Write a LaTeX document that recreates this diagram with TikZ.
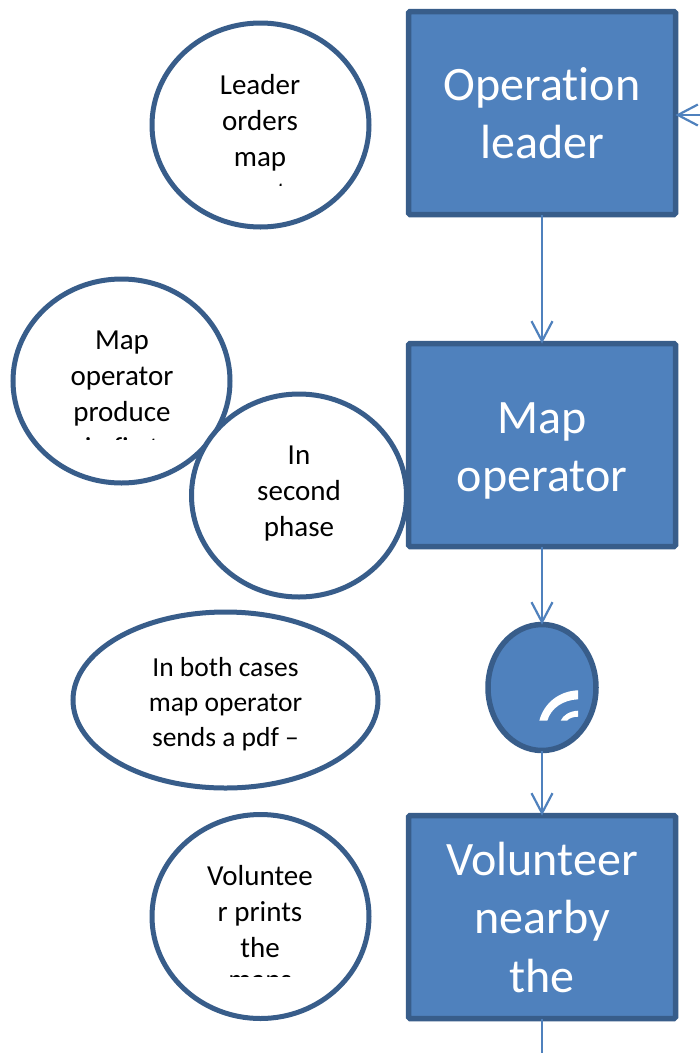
\documentclass[tikz,border=0pt]{standalone}
\usepackage{fontspec}
\setmainfont[Ligatures=NoCommon]{Carlito}
\usetikzlibrary{shapes.geometric,arrows.meta}
\definecolor{fillblue}{HTML}{4F81BD}
\definecolor{edgeblue}{HTML}{385D8A}
\tikzset{
  boxnode/.style={draw=edgeblue,fill=fillblue,line width=5.5pt,rounded corners=1.5pt,minimum width=267pt,minimum height=203pt,inner sep=0pt,outer sep=0pt,text=white,align=center,font=\fontsize{48}{58.5}\selectfont},
  boxtitle/.style={inner sep=0pt,text=white,align=center,font=\fontsize{48}{58.5}\selectfont},
  bubble/.style={ellipse,draw=edgeblue,fill=white,line width=5pt,inner sep=0pt,outer sep=0pt},
  darkbubble/.style={ellipse,draw=edgeblue,fill=fillblue,line width=5.5pt,inner sep=0pt,outer sep=0pt},
  bubbletext/.style={align=center,text=black,inner sep=0pt,font=\fontsize{29}{36}\selectfont},
  smalltext/.style={align=center,text=black,inner sep=0pt,font=\fontsize{27.5}{35}\selectfont},
  link/.style={draw=fillblue,line width=2.2pt,-{Straight Barb[length=20pt,width=21pt,line width=2.2pt]}},
  plainlink/.style={draw=fillblue,line width=2.2pt}
}
\begin{document}
\begin{tikzpicture}[x=1pt,y=-1pt]
\useasboundingbox[fill=white] (0,0) rectangle (700,1053);
\node[boxnode] (opbox) at (542,113) {Operation\\leader};
\node[boxnode] (mapbox) at (542,445) {};
\node[boxtitle] (maptitle) at (542,451) {Map\\operator};
\node[boxnode] (volbox) at (542,917) {Volunteer\\nearby\\the};
\node[darkbubble,minimum width=108pt,minimum height=126pt] (pdfbubble) at (542,687.5) {};
\coordinate (rightin) at (700,115);
\coordinate (downout) at (542,1053);
\draw[link] (opbox) -- (mapbox);
\draw[link] (mapbox) -- (pdfbubble);
\draw[link] (pdfbubble) -- (volbox);
\draw[link] (rightin) -- (opbox.east |- rightin);
\draw[plainlink] (volbox) -- (downout);
\fill[white] (539.3,720.7) .. controls (544,703) and (559,691) .. (578,690.3) -- (578,699.3) .. controls (563,700) and (551,708) .. (547.3,720.7) -- cycle;
\fill[white] (560.7,720.7) .. controls (563,715) and (570,711) .. (578,710.7) -- (578,716.7) .. controls (574,716.7) and (569,718) .. (567,720.7) -- cycle;
% bubbles
\node[bubble,minimum width=217pt,minimum height=204pt] (leaderbubble) at (260.5,125) {};
\node[bubble,minimum width=217pt,minimum height=204pt] (mapbubble) at (121.5,381) {};
\node[bubble,minimum width=215pt,minimum height=203pt] (phasebubble) at (299,495.5) {};
\node[bubble,minimum width=305pt,minimum height=176pt] (bothbubble) at (225.5,700) {};
\node[bubble,minimum width=217pt,minimum height=204pt] (volbubble) at (260.5,916.5) {};
\begin{scope}
\clip (150,20) rectangle (371,185);
\node[bubbletext,anchor=north] (leadertext) at (260,74) {Leader\\orders\\map\\operator};
\end{scope}
\begin{scope}
\clip (11,277) rectangle (232,439);
\node[bubbletext,anchor=north] (maptext) at (122,331) {Map\\operator\\produce\\in first};
\end{scope}
\node[bubbletext,anchor=north] (phasetext) at (299,446) {In\\second\\phase};
\node[smalltext,anchor=north] (bothtext) at (225.5,657) {In both cases\\map operator\\sends a pdf –};
\begin{scope}
\clip (150,813) rectangle (371,976.5);
\node[bubbletext,anchor=north] (voltext) at (260,865) {Voluntee\\r prints\\the\\[-3.5pt]maps};
\end{scope}
\end{tikzpicture}
\end{document}
